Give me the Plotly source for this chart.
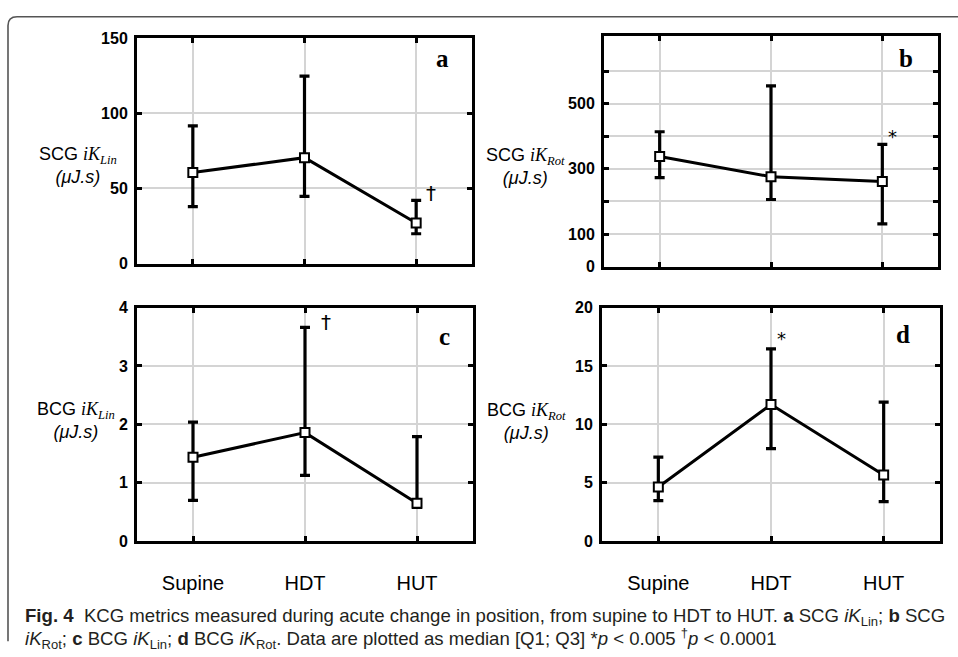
import plotly.graph_objects as go

W, H = 958, 657

categories = ["Supine", "HDT", "HUT"]

# Panel a: SCG iK_Lin
a_median = [60.5, 70.4, 27.0]
a_q1 = [37.8, 44.7, 19.8]
a_q3 = [91.6, 124.6, 42.0]

# Panel b: SCG iK_Rot
b_median = [338, 276, 261]
b_q1 = [273, 206, 131]
b_q3 = [414, 555, 375]

# Panel c: BCG iK_Lin
c_median = [1.44, 1.86, 0.65]
c_q1 = [0.70, 1.13, 0.58]
c_q3 = [2.04, 3.66, 1.79]

# Panel d: BCG iK_Rot
d_median = [4.65, 11.7, 5.68]
d_q1 = [3.48, 7.93, 3.40]
d_q3 = [7.2, 16.46, 11.9]

a_yticks = [0, 50, 100, 150]
b_yticks = [0, 100, 200, 300, 400, 500, 600]
b_yticklabels = ["0", "100", "", "300", "", "500", ""]
c_yticks = [0, 1, 2, 3, 4]
d_yticks = [0, 5, 10, 15, 20]

panels = [
    ("a", a_median, a_q1, a_q3),
    ("b", b_median, b_q1, b_q3),
    ("c", c_median, c_q1, c_q3),
    ("d", d_median, d_q1, d_q3),
]

fig = go.Figure()
for i, (name, med, q1, q3) in enumerate(panels):
    suffix = "" if i == 0 else str(i + 1)
    fig.add_trace(go.Scatter(
        x=categories, y=med,
        mode="lines+markers",
        line=dict(color="black", width=3),
        marker=dict(symbol="square", size=9, color="white",
                    line=dict(color="black", width=2)),
        error_y=dict(type="data", symmetric=False,
                     array=[h - m for h, m in zip(q3, med)],
                     arrayminus=[m - l for m, l in zip(med, q1)],
                     color="black", thickness=3.2, width=5),
        xaxis="x" + suffix, yaxis="y" + suffix,
        showlegend=False, hoverinfo="skip",
    ))

def px_x(v):
    return v / W

def px_y(v):
    return 1 - v / H

sans = "Liberation Sans, Arial, sans-serif"
serif = "Liberation Serif, Times New Roman, serif"

tickfont = dict(family=sans, size=16, color="black", weight="bold")
xfont = dict(family=sans, size=20, color="black")

common_axis = dict(
    showline=True, linecolor="black", linewidth=3, mirror="ticks",
    ticks="inside", ticklen=5, tickwidth=3, tickcolor="black",
    showgrid=True, gridcolor="#d4d4d4", gridwidth=2, zeroline=False,
)

xdoms = [(137, 472), (604, 938), (137, 473), (602, 940)]
ydoms = [(30.8, 262.3), (29, 265.5), (307.5, 547.5), (307.5, 547.5)]
yranges = [[0, 150], [0, 707], [0, 4], [0, 20]]
ytickvals = [a_yticks, b_yticks, c_yticks, d_yticks]
yticktexts = [[str(v) for v in a_yticks], b_yticklabels,
              [str(v) for v in c_yticks], [str(v) for v in d_yticks]]

layout = dict(
    width=W, height=H, margin=dict(l=0, r=0, t=0, b=0),
    paper_bgcolor="white", plot_bgcolor="white",
)
for i in range(4):
    suffix = "" if i == 0 else str(i + 1)
    layout["xaxis" + suffix] = dict(
        common_axis,
        domain=[px_x(xdoms[i][0]), px_x(xdoms[i][1])],
        anchor="y" + suffix,
        type="category", range=[-0.5, 2.5],
        tickvals=categories,
        showticklabels=(i >= 2),
        tickfont=xfont, ticklabelstandoff=22,
    )
    layout["yaxis" + suffix] = dict(
        common_axis,
        domain=[px_y(ydoms[i][1]), px_y(ydoms[i][0])],
        anchor="x" + suffix,
        range=yranges[i],
        tickvals=ytickvals[i], ticktext=yticktexts[i],
        tickfont=tickfont, ticklabelstandoff=3,
    )
fig.update_layout(**layout)

def ylabel(prefix, sub):
    return (prefix + " <span style='font-family:Liberation Serif'><i>iK</i><sub><i>" + sub +
            "</i></sub></span><br><i>(μJ.s)</i>")

ylabels = [
    (77.5, 162, ylabel("SCG", "Lin")),
    (525, 163, ylabel("SCG", "Rot")),
    (76, 423, ylabel("BCG", "Lin")),
    (526, 424, ylabel("BCG", "Rot")),
]
for x, y, t in ylabels:
    fig.add_annotation(x=px_x(x), y=px_y(y), xref="paper", yref="paper",
                       text=t, showarrow=False, xanchor="center", yanchor="middle",
                       align="center", font=dict(family=sans, size=18, color="black"))

letters = [("a", 442, 52), ("b", 906, 52), ("c", 444, 337), ("d", 903, 335)]
for t, x, y in letters:
    fig.add_annotation(x=px_x(x), y=px_y(y), xref="paper", yref="paper",
                       text="<b>" + t + "</b>", showarrow=False,
                       xanchor="center", yanchor="middle",
                       font=dict(family=serif, size=25, color="black"))

# significance markers (placed next to the upper quartile of the flagged point)
sig = [
    ("†", "x", "y", 2.13, a_q3[2] + 5, 20),
    ("*", "x2", "y2", 2.09, b_q3[2] + 25, 18),
    ("†", "x3", "y3", 1.19, c_q3[1] + 0.1, 20),
    ("*", "x4", "y4", 1.09, d_q3[1] + 0.85, 18),
]
for t, xr, yr, x, y, s in sig:
    fig.add_annotation(x=x, y=y, xref=xr, yref=yr, text=t, showarrow=False,
                       xanchor="center", yanchor="middle",
                       font=dict(family="DejaVu Sans, sans-serif", size=s, color="black"))

# outer figure frame (top and left, rounded corner)
fx, fy, r = 8, 9, 9
path = ("M {:.5f},{:.5f} L {:.5f},{:.5f} Q {:.5f},{:.5f} {:.5f},{:.5f} L {:.5f},{:.5f}".format(
    1.0, px_y(fy), px_x(fx + r), px_y(fy), px_x(fx), px_y(fy), px_x(fx), px_y(fy + r),
    px_x(fx), px_y(650)))
fig.add_shape(type="path", path=path, xref="paper", yref="paper",
              line=dict(color="#555555", width=1.6))

capfont = dict(family=sans, size=18.6, color="#231f20")
cap1 = ("<b>Fig. 4</b>  KCG metrics measured during acute change in position, from supine to HDT to HUT. "
        "<b>a</b> SCG <i>iK</i><sub>Lin</sub>; <b>b</b> SCG")
cap2 = ("<i>iK</i><sub>Rot</sub>; <b>c</b> BCG <i>iK</i><sub>Lin</sub>; <b>d</b> BCG <i>iK</i><sub>Rot</sub>. "
        "Data are plotted as median [Q1; Q3] *<i>p</i> &lt; 0.005 <sup>†</sup><i>p</i> &lt; 0.0001")
fig.add_annotation(x=px_x(23), y=px_y(625), xref="paper", yref="paper", text=cap1,
                   showarrow=False, xanchor="left", yanchor="middle", align="left", font=capfont)
fig.add_annotation(x=px_x(23), y=px_y(647), xref="paper", yref="paper", text=cap2,
                   showarrow=False, xanchor="left", yanchor="middle", align="left", font=capfont)

fig.write_html("out.html")
